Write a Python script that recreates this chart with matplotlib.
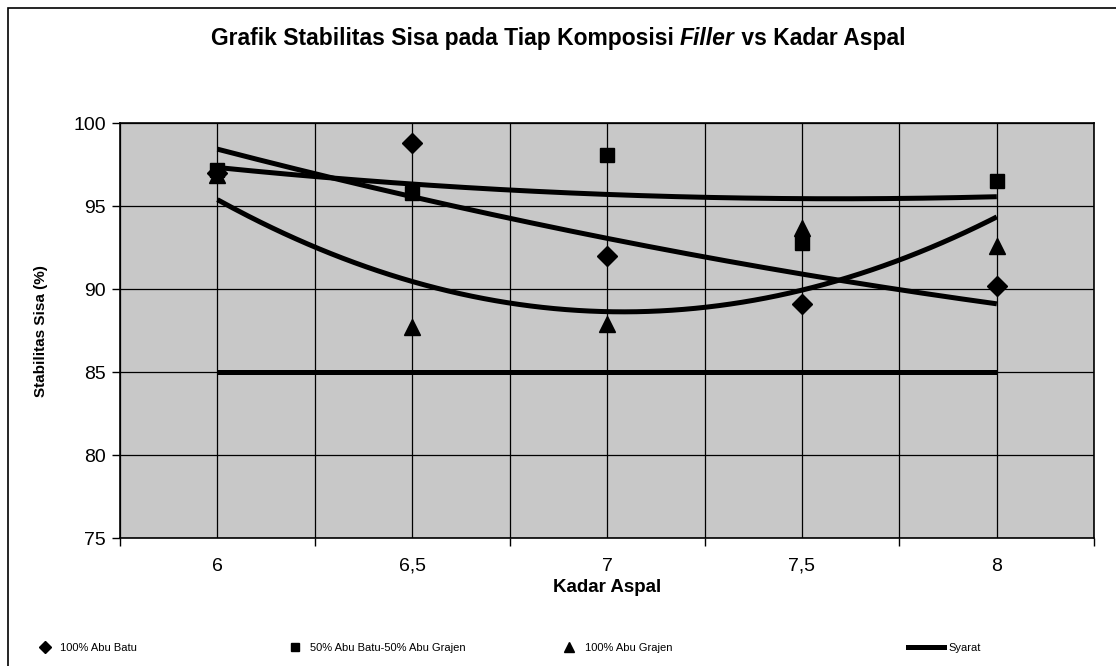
import numpy as np
import matplotlib
matplotlib.use("Agg")
import matplotlib.pyplot as plt
from matplotlib.lines import Line2D
from matplotlib.patches import Rectangle

plt.rcParams['font.family'] = ['Liberation Sans', 'DejaVu Sans']

# --- data ---
kadar_aspal = [6.0, 6.5, 7.0, 7.5, 8.0]
abu_batu = [97.0, 98.8, 92.0, 89.1, 90.2]
abu_campur = [97.2, 95.8, 98.1, 92.8, 96.5]
abu_grajen = [96.9, 87.7, 87.9, 93.7, 92.6]
syarat_x = [6.0, 8.0]
syarat_y = [85, 85]

x_tick_vals = [6, 6.5, 7, 7.5, 8]
x_tick_labels = ["6", "6,5", "7", "7,5", "8"]
y_tick_vals = [75, 80, 85, 90, 95, 100]

fig = plt.figure(figsize=(11.16, 6.66), dpi=100)
ax = fig.add_axes([0.1075, 0.192, 0.873, 0.623])
ax.set_facecolor('#c8c8c8')

# --- trendlines (2nd order poly, like the Excel ones) ---
xs = np.linspace(6, 8, 200)
for ys in (abu_batu, abu_campur, abu_grajen):
    p = np.polyfit(kadar_aspal, ys, 2)
    ax.plot(xs, np.polyval(p, xs), color='black', lw=3.6, solid_capstyle='butt', zorder=3)

ax.plot(syarat_x, syarat_y, color='black', lw=3.6, solid_capstyle='butt', zorder=3)

ax.plot(kadar_aspal, abu_batu, 'D', color='black', ms=10, ls='none', zorder=4)
ax.plot(kadar_aspal, abu_campur, 's', color='black', ms=9.5, ls='none', zorder=4)
ax.plot(kadar_aspal, abu_grajen, '^', color='black', ms=11, ls='none', zorder=4)

# --- axes ---
ax.set_xlim(5.75, 8.25)
ax.set_ylim(75, 100)
ax.set_yticks(y_tick_vals)
ax.set_yticklabels([str(v) for v in y_tick_vals], fontsize=14)
ax.set_xticks(np.arange(5.75, 8.26, 0.5))
ax.set_xticklabels([])
ax.set_xticks(x_tick_vals, minor=True)
ax.set_xticklabels(x_tick_labels, minor=True, fontsize=14)
ax.tick_params(axis='x', which='minor', length=0, pad=14)
ax.tick_params(axis='x', which='major', length=6, direction='out', width=1)
ax.tick_params(axis='y', length=6, direction='out', width=1, pad=4)

for gx in np.arange(5.75, 8.26, 0.25):
    ax.axvline(gx, color='black', lw=0.9, zorder=1)
for gy in y_tick_vals:
    ax.axhline(gy, color='black', lw=0.9, zorder=1)
for s in ax.spines.values():
    s.set_linewidth(1.2)

ax.set_xlabel("Kadar Aspal", fontsize=13.5, fontweight='bold', labelpad=3)
ax.set_ylabel("Stabilitas Sisa (%)", fontsize=11, fontweight='bold', labelpad=18)

# --- title with italic "Filler" ---
parts = [("Grafik Stabilitas Sisa pada Tiap Komposisi ", 'normal'),
         ("Filler", 'italic'),
         (" vs Kadar Aspal", 'normal')]
fig.canvas.draw()
r = fig.canvas.get_renderer()
texts = []
for s, st in parts:
    t = fig.text(0, 0.942, s, fontsize=16.5, fontweight='bold', style=st, va='center', ha='left')
    texts.append(t)
widths = [t.get_window_extent(renderer=r).width for t in texts]
total = sum(widths)
x0 = (558 - total / 2)
for t, w in zip(texts, widths):
    t.set_x(x0 / fig.bbox.width)
    x0 += w

# --- legend at the bottom, one entry per slot like the Excel legend ---
handles = [
    Line2D([], [], marker='D', color='black', ls='none', ms=6),
    Line2D([], [], marker='s', color='black', ls='none', ms=6),
    Line2D([], [], marker='^', color='black', ls='none', ms=7),
    Line2D([], [], color='black', lw=3.6),
]
labels = ["100% Abu Batu", "50% Abu Batu-50% Abu Grajen", "100% Abu Grajen", "Syarat"]
slot_x = [0.026, 0.25, 0.496, 0.81]
for h, lab, sx in zip(handles, labels, slot_x):
    fig.legend([h], [lab], loc='center left', bbox_to_anchor=(sx, 0.027),
               frameon=False, fontsize=8, handlelength=3.2 if lab == "Syarat" else 2,
               handletextpad=0.4, borderaxespad=0)

# chart border
fig.add_artist(Rectangle((0.007, -0.01), 1.0, 0.998, transform=fig.transFigure,
                         fill=False, ec='black', lw=1.2))

fig.savefig("out.png", dpi=100)
